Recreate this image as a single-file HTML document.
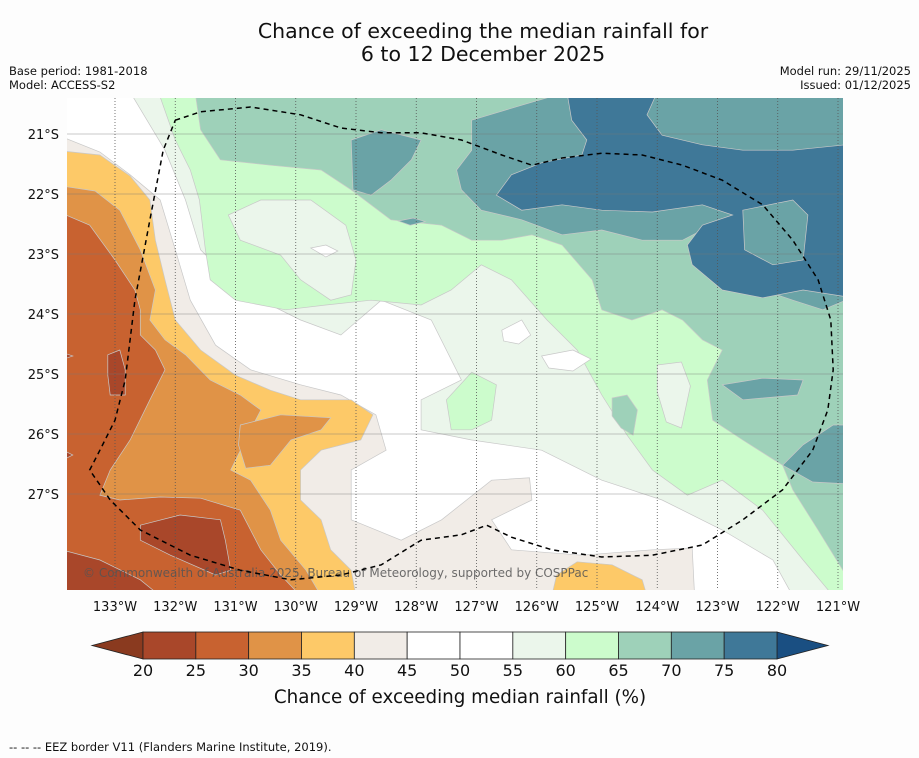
<!DOCTYPE html>
<html><head><meta charset="utf-8">
<style>
body{margin:0;background:#fdfdfd;font-family:"DejaVu Sans","Liberation Sans",sans-serif;}
svg{display:block;font-family:"DejaVu Sans","Liberation Sans",sans-serif;}
</style></head>
<body>
<svg id="chart" width="919" height="758" xmlns="http://www.w3.org/2000/svg">
<rect width="919" height="758" fill="#fdfdfd"/>
<text x="483" y="38" text-anchor="middle" font-size="20.5" fill="#111">Chance of exceeding the median rainfall for</text>
<text x="483" y="61" text-anchor="middle" font-size="20.5" fill="#111">6 to 12 December 2025</text>
<text x="9" y="75" font-size="11.5" fill="#111">Base period: 1981-2018</text>
<text x="9" y="89" font-size="11.5" fill="#111">Model: ACCESS-S2</text>
<text x="911" y="75" text-anchor="end" font-size="11.5" fill="#111">Model run: 29/11/2025</text>
<text x="911" y="89" text-anchor="end" font-size="11.5" fill="#111">Issued: 01/12/2025</text>
<defs><clipPath id="mapclip"><rect x="67" y="98" width="776" height="492"/></clipPath></defs>
<g id="map" clip-path="url(#mapclip)"></g>
<g id="axes"></g>
<g id="cbar"></g>
<text x="460" y="703" text-anchor="middle" font-size="18.3" fill="#111">Chance of exceeding median rainfall (%)</text>
<text x="9" y="751" font-size="11.5" fill="#111">--  --  -- EEZ border V11 (Flanders Marine Institute, 2019).</text>
</svg>
<script>
// ---- data ----
const lonTicks = [133,132,131,130,129,128,127,126,125,124,123,122,121];
const latTicks = [21,22,23,24,25,26,27];
const levels = [20,25,30,35,40,45,50,55,60,65,70,75,80];
const levelColors = ["#a9472a","#c86230","#e09347","#fdc968","#f1ece7","#ffffff","#ffffff","#ebf6eb","#ccfccc","#9ed1b9","#6aa3a6","#3f7898"];
const underColor = "#8a3a1f";
const overColor = "#1a4f82";
// contour regions: [class index, [[degW,degS],...]]
const regBeige = [[134,21.0],[133.25,21.3],[132.75,21.68],[132.25,22.1],[132,22.93],[131.75,23.77],[131.33,24.52],[130.75,24.93],[129.92,25.18],[129.25,25.35],[128.67,25.68],[128.5,26.27],[129.08,26.6],[129.08,27.43],[128.25,27.77],[127.58,27.43],[126.75,26.77],[126.12,26.73],[126.08,27.1],[126.75,27.43],[126.42,27.93],[125.25,28.02],[124.08,27.93],[123.42,27.9],[123.38,28.7],[134,28.7]];
const regYellow = [[134,21.27],[133.25,21.35],[132.75,21.7],[132.42,22.1],[132.33,22.77],[132.17,23.43],[132,24.1],[131.58,24.6],[131,25.02],[130.42,25.27],[129.92,25.43],[129.08,25.43],[128.72,25.68],[128.92,26.1],[129.58,26.27],[129.92,26.6],[129.92,27.1],[129.58,27.43],[129.42,27.93],[129.08,28.27],[129,28.7],[134,28.7]];
const regYellow2 = [[125.75,28.7],[125.67,28.35],[125.33,28.13],[124.75,28.18],[124.25,28.43],[124.17,28.7]];
const regOrange = [[134,21.85],[133.33,21.95],[132.92,22.27],[132.58,22.93],[132.33,23.6],[132.42,24.1],[132.17,24.43],[131.83,24.68],[131.42,25.1],[130.92,25.35],[130.58,25.6],[130.75,25.93],[131.08,26.6],[130.75,26.77],[130.42,27.27],[130.25,27.77],[129.83,28.27],[129.58,28.7],[134,28.7]];
const regOrange2 = [[130.92,25.85],[130.25,25.68],[129.42,25.73],[129.58,25.93],[130.08,26.1],[130.42,26.52],[130.83,26.57],[130.95,26.18]];
const regRust = [[134,22.27],[133.42,22.52],[133,23.1],[132.67,23.6],[132.58,23.93],[132.58,24.35],[132.33,24.6],[132.17,24.93],[132.42,25.43],[132.75,26.1],[133.08,26.6],[133.25,27.02],[132.92,27.1],[132.25,27.05],[131.58,27.07],[130.92,27.27],[130.58,27.93],[130.25,28.35],[129.92,28.7],[134,28.7]];
const regBrown1 = [[133.12,24.68],[132.92,24.6],[132.83,24.93],[132.83,25.35],[133.08,25.35],[133.12,25.02]];
const regBrown2 = [[132.58,27.52],[131.92,27.35],[131.25,27.43],[131.17,27.77],[131.08,28.27],[131.33,28.35],[132.08,28.02],[132.58,27.77]];
const regBrown3 = [[134,27.9],[133.25,28.1],[132.58,28.43],[132.25,28.7],[134,28.7]];
const regBrown4 = [[134,24.6],[133.7,24.7],[134,24.8]];
const regBrown5 = [[134,26.2],[133.7,26.35],[134,26.5]];
const regPale = [[132.75,20.3],[132.17,21.27],[131.83,22.1],[131.58,22.93],[130.92,23.6],[129.92,24.1],[129.25,24.35],[128.58,23.77],[127.75,24.1],[127.25,25.1],[127.92,25.43],[127.92,25.93],[127.08,26.1],[125.92,26.27],[124.92,26.77],[123.92,27.1],[122.92,27.6],[122.08,28.1],[121.75,28.7],[120.5,28.7],[120.5,20.3]];
const regBright = [[132.28,20.3],[132,21.1],[131.75,21.6],[131.6,22.1],[131.5,22.93],[131.42,23.43],[131,23.77],[130.17,23.93],[129.5,23.85],[128.75,23.77],[127.92,23.85],[127.42,23.6],[126.92,23.18],[126.42,23.43],[125.83,24.1],[125.33,24.6],[124.92,25.35],[124.5,26.02],[124.08,26.6],[123.5,27.02],[122.92,26.77],[122.25,27.27],[121.58,28.1],[121.08,28.7],[120.5,28.7],[120.5,20.3]];
const regBright2 = [[127.5,25.43],[127.08,24.97],[126.67,25.18],[126.75,25.77],[127.08,25.93],[127.42,25.93]];
const regPale2 = [[131.12,22.35],[130.58,22.1],[129.75,22.1],[129.17,22.52],[129,23.1],[129.08,23.68],[129.42,23.77],[129.92,23.43],[130.25,23.02],[130.92,22.77]];
const regPale3 = [[124,24.85],[123.6,24.8],[123.45,25.2],[123.6,25.9],[123.85,25.8],[124,25.3]];
const regWhite1 = [[129.75,22.9],[129.5,22.85],[129.3,22.95],[129.5,23.05]];
const regWhite2 = [[126.58,24.27],[126.25,24.1],[126.1,24.35],[126.3,24.5],[126.55,24.45]];
const regWhite3 = [[125.92,24.7],[125.4,24.6],[125.1,24.75],[125.4,24.95],[125.8,24.9]];
const regMid = [[131.67,20.3],[131.58,20.93],[131.25,21.43],[130.42,21.52],[129.58,21.6],[129.08,21.93],[128.42,22.43],[127.58,22.52],[127.08,22.77],[126.58,22.77],[126.08,22.68],[125.58,22.85],[125.08,23.43],[124.92,23.93],[124.42,24.1],[123.92,23.93],[123.58,24.1],[123.25,24.43],[122.92,24.6],[123.17,25.1],[123.08,25.77],[122.58,26.1],[121.92,26.52],[121.75,26.93],[121.33,27.6],[120.87,28.35],[120.5,28.35],[120.5,20.3]];
const regMid2 = [[124.75,25.4],[124.5,25.35],[124.33,25.6],[124.4,26.02],[124.6,25.9],[124.75,25.7]];
const regTeal1 = [[129.08,21.1],[128.58,20.93],[127.92,21.1],[128.08,21.43],[128.42,21.77],[128.75,22.02],[129.05,21.93]];
const regTeal1b = [[128.3,22.45],[128.05,22.4],[127.85,22.46],[128.1,22.52]];
const regTeal2 = [[127.08,21.27],[127.08,20.77],[126.25,20.52],[125.5,20.3],[120.5,20.3],[120.5,24.0],[120.87,23.77],[121.25,23.93],[121.75,23.77],[122.25,23.6],[122.58,23.27],[122.58,22.6],[123.25,22.6],[123.58,22.77],[124.25,22.77],[124.92,22.6],[125.58,22.68],[126.25,22.43],[126.92,22.27],[127.25,21.93],[127.33,21.6]];
const regTeal3 = [[122.92,25.18],[122.25,25.07],[121.58,25.1],[121.67,25.35],[122.58,25.43]];
const regTeal4 = [[121.92,26.52],[121.58,26.18],[121.08,25.85],[120.5,25.85],[120.5,26.85],[121.42,26.8]];
const regDark = [[125.5,20.3],[124,20.3],[124.17,20.68],[123.92,21.02],[123.25,21.18],[122.58,21.27],[121.75,21.27],[120.87,21.18],[120.5,21.18],[120.5,23.77],[121.58,23.6],[122.25,23.73],[122.92,23.6],[123.42,23.18],[123.5,22.85],[123.25,22.52],[122.75,22.35],[123.25,22.18],[124.08,22.3],[124.92,22.27],[125.58,22.18],[126.25,22.27],[126.67,22.02],[126.42,21.68],[125.92,21.48],[125.25,21.35],[125.17,21.1],[125.42,20.77]];
const regTeal5 = [[122.58,22.27],[121.75,22.1],[121.5,22.35],[121.58,23.1],[122.08,23.18],[122.55,22.93]];
const regions = [
 [4,regBeige],[3,regYellow],[3,regYellow2],[2,regOrange],[2,regOrange2],[1,regRust],
 [0,regBrown1],[0,regBrown2],[0,regBrown3],[0,regBrown4],[0,regBrown5],
 [7,regPale],[8,regBright],[8,regBright2],[7,regPale2],[7,regPale3],
 [5,regWhite1],[5,regWhite2],[5,regWhite3],
 [9,regMid],[9,regMid2],[10,regTeal1],[10,regTeal1b],[10,regTeal2],[10,regTeal3],[10,regTeal4],
 [11,regDark],[10,regTeal5]
];
const eezBorder = [[132,20.77],[131.58,20.63],[130.75,20.55],[129.92,20.68],[129.25,20.9],[128.58,20.98],[127.92,20.98],[127.25,21.1],[126.58,21.35],[126.08,21.52],[125.58,21.4],[124.92,21.32],[124.25,21.35],[123.58,21.52],[122.92,21.77],[122.25,22.18],[121.75,22.77],[121.33,23.43],[121.12,24.1],[121.08,24.93],[121.17,25.6],[121.42,26.27],[121.92,26.93],[122.58,27.43],[123.25,27.85],[124.08,28.02],[124.92,28.05],[125.75,27.93],[126.42,27.72],[126.83,27.52],[127.25,27.68],[127.92,27.77],[128.58,28.18],[129.25,28.35],[130.08,28.43],[130.92,28.27],[131.75,28.02],[132.58,27.6],[133.08,27.1],[133.42,26.6],[133.25,26.27],[133,25.77],[132.83,25.1],[132.67,23.77],[132.42,22.43],[132.2,21.27],[132,20.77]];

// ---- scales ----
const NS="http://www.w3.org/2000/svg";
function xScale(w){return 115+(133-w)*60.25;}
function yScale(s){return 134+(s-21)*60;}
function mk(tag,attrs,parent){const e=document.createElementNS(NS,tag);for(const k in attrs)e.setAttribute(k,attrs[k]);parent.appendChild(e);return e;}
const map=document.getElementById('map');
const axes=document.getElementById('axes');
const cbar=document.getElementById('cbar');

mk('rect',{x:67,y:98,width:776,height:492,fill:'#ffffff'},map);
regions.forEach(function(r,i){
  const pts=r[1].map(p=>xScale(p[0]).toFixed(1)+','+yScale(p[1]).toFixed(1)).join(' ');
  const el=mk('polygon',{points:pts,fill:levelColors[r[0]],stroke:'#c8c8c8','stroke-width':0.7},map);
  
  
});
const cr=mk('text',{x:83,y:577,'font-size':12,fill:'#555','fill-opacity':0.85},map);
cr.textContent='© Commonwealth of Australia 2025, Bureau of Meteorology, supported by COSPPac';


latTicks.forEach(function(t){
  const l=mk('line',{x1:67,x2:843,y1:yScale(t),y2:yScale(t),stroke:'#777','stroke-width':0.6,'stroke-opacity':0.8},map);
  
  
});
lonTicks.forEach(function(t){
  const l=mk('line',{x1:xScale(t),x2:xScale(t),y1:98,y2:590,stroke:'#555','stroke-width':0.8,'stroke-dasharray':'1,2'},map);
  
  
});
const eez=mk('polyline',{points:eezBorder.map(p=>xScale(p[0]).toFixed(1)+','+yScale(p[1]).toFixed(1)).join(' '),fill:'none',stroke:'#000','stroke-width':1.5,'stroke-dasharray':'5,4'},map);


latTicks.forEach(function(t){
  const tx=mk('text',{x:59,y:yScale(t)+5,'text-anchor':'end','font-size':13,fill:'#111'},axes);
  tx.textContent=t+'°S';
  
  
});
lonTicks.forEach(function(t){
  const tx=mk('text',{x:xScale(t),y:611,'text-anchor':'middle','font-size':13,fill:'#111'},axes);
  tx.textContent=t+'°W';
  
  
});
const cx0=143,cx1=777,cy=632,ch=27,bw=(cx1-cx0)/levelColors.length;
const under=mk('polygon',{points:`92,${cy+ch/2} ${cx0},${cy} ${cx0},${cy+ch}`,fill:underColor,stroke:'#222','stroke-width':0.8},cbar);


const over=mk('polygon',{points:`828,${cy+ch/2} ${cx1},${cy} ${cx1},${cy+ch}`,fill:overColor,stroke:'#222','stroke-width':0.8},cbar);


levelColors.forEach(function(c,i){
  const r=mk('rect',{x:cx0+i*bw,y:cy,width:bw,height:ch,fill:c,stroke:'#222','stroke-width':0.8},cbar);
  
  
});
levels.forEach(function(v,i){
  const tx=mk('text',{x:cx0+i*bw,y:676,'text-anchor':'middle','font-size':16,fill:'#111'},cbar);
  tx.textContent=v;
  
  
});
</script>
</body></html>
